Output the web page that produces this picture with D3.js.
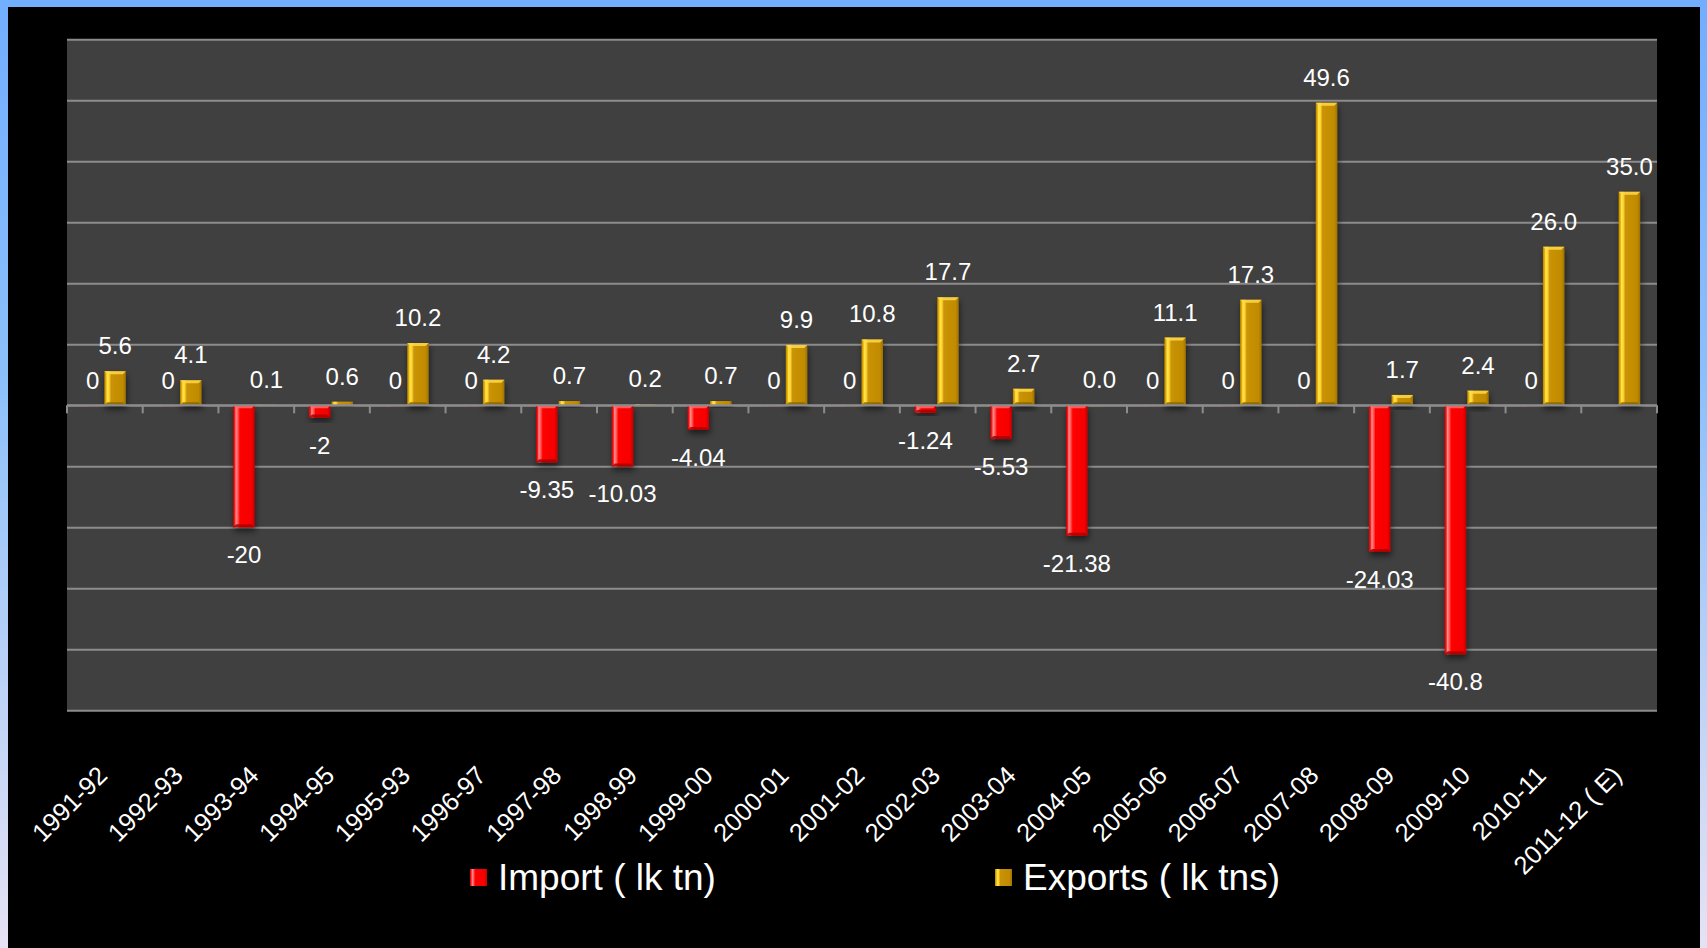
<!DOCTYPE html>
<html>
<head>
<meta charset="utf-8">
<script src="https://cdn.jsdelivr.net/npm/d3@7"></script>
<style>
  html, body { margin: 0; padding: 0; background: #000; overflow: hidden; }
  svg { display: block; font-family: "Liberation Sans", Arial, sans-serif; }
</style>
</head>
<body>
<svg id="chart" width="1707" height="948"></svg>
<script>
// ---- data ----
const categories = ["1991-92","1992-93","1993-94","1994-95","1995-93","1996-97","1997-98","1998.99","1999-00","2000-01","2001-02","2002-03","2003-04","2004-05","2005-06","2006-07","2007-08","2008-09","2009-10","2010-11","2011-12 ( E)"];
const importValues = [0, 0, -20, -2, 0, 0, -9.35, -10.03, -4.04, 0, 0, -1.24, -5.53, -21.38, 0, 0, 0, -24.03, -40.8, 0, null];
const exportValues = [5.6, 4.1, 0.1, 0.6, 10.2, 4.2, 0.7, 0.2, 0.7, 9.9, 10.8, 17.7, 2.7, 0.0, 11.1, 17.3, 49.6, 1.7, 2.4, 26.0, 35.0];
const seriesNames = ["Import ( lk tn)", "Exports ( lk tns)"];
const yTicks = [-50, -40, -30, -20, -10, 0, 10, 20, 30, 40, 50, 60];

// ---- layout ----
const W = 1707, H = 948;
const plot = { left: 67, right: 1657, top: 39.3, bottom: 710.3 };

const svg = d3.select("#chart");
const defs = svg.append("defs");

// page background: blue gradient frame + black panel
const bgGrad = defs.append("linearGradient").attr("id", "bgGrad")
  .attr("x1", 0).attr("y1", 0).attr("x2", 0).attr("y2", 1);
bgGrad.append("stop").attr("offset", "0%").attr("stop-color", "#72aeff");
bgGrad.append("stop").attr("offset", "40%").attr("stop-color", "#8cc0fa");
bgGrad.append("stop").attr("offset", "100%").attr("stop-color", "#e6e2f4");
svg.append("rect").attr("width", W).attr("height", H).attr("fill", "url(#bgGrad)");
svg.append("rect").attr("x", 8).attr("y", 7).attr("width", 1692).attr("height", H - 7).attr("fill", "#000");

// bar gradients
function hGrad(id, stops) {
  const g = defs.append("linearGradient").attr("id", id)
    .attr("x1", 0).attr("y1", 0).attr("x2", 1).attr("y2", 0);
  stops.forEach(s => g.append("stop").attr("offset", s[0]).attr("stop-color", s[1]));
}
hGrad("goldGrad", [["0%", "#b98500"], ["7%", "#e0aa08"], ["13%", "#ffe44d"], ["22%", "#ffd42a"], ["31%", "#c99308"], ["86%", "#c08b00"], ["100%", "#9e7200"]]);
hGrad("redGrad", [["0%", "#c80000"], ["7%", "#ff1a1a"], ["13%", "#ff8f8f"], ["22%", "#ff5252"], ["31%", "#ff0000"], ["86%", "#f50000"], ["100%", "#c00000"]]);

const shadow = defs.append("filter").attr("id", "shadow")
  .attr("x", "-50%").attr("y", "-20%").attr("width", "200%").attr("height", "160%");
shadow.append("feDropShadow").attr("dx", 1).attr("dy", 4).attr("stdDeviation", 3)
  .attr("flood-color", "#000").attr("flood-opacity", 0.55);

// scales
const x0 = d3.scaleBand().domain(categories).range([plot.left, plot.right]).padding(0);
const keys = ["imp", "exp"];
const bw = x0.bandwidth();
const x1 = d3.scaleBand().domain(keys).range([bw * 0.196, bw * 0.777]).paddingInner(0.05);
const y = d3.scaleLinear().domain([-50, 60]).range([plot.bottom, plot.top]);

// plot background
svg.append("rect")
  .attr("x", plot.left).attr("y", plot.top)
  .attr("width", plot.right - plot.left).attr("height", plot.bottom - plot.top)
  .attr("fill", "#404040");

// gridlines
svg.append("g")
  .attr("transform", `translate(${plot.left},0)`)
  .call(d3.axisLeft(y).tickValues(yTicks).tickSize(-(plot.right - plot.left)).tickFormat(""))
  .call(g => g.select(".domain").remove())
  .call(g => g.selectAll(".tick line").attr("stroke", "#8c8c8c").attr("stroke-width", 2));

// bars data
const rows = categories.map((c, i) => ({ cat: c, imp: importValues[i], exp: exportValues[i] }));
const barsG = svg.append("g");

const colors = { imp: "redGrad", exp: "goldGrad" };
const edgeTop = { imp: "#ff6a6a", exp: "#ffd84a" };
const edgeBot = { imp: "#a80000", exp: "#8a6400" };

rows.forEach(r => {
  keys.forEach(k => {
    const v = r[k];
    if (v === null || v === undefined) return;
    const bx = x0(r.cat) + x1(k);
    const w = x1.bandwidth();
    const yTop = y(Math.max(v, 0));
    const yBot = y(Math.min(v, 0));
    const h = Math.max(yBot - yTop, 0.8);
    const g = barsG.append("g");
    g.append("rect").attr("x", bx).attr("y", yTop).attr("width", w).attr("height", h)
      .attr("fill", `url(#${colors[k]})`).attr("filter", "url(#shadow)");
    if (h > 6) {
      // bevel edges
      g.append("path")
        .attr("d", `M${bx},${yTop} L${bx + w},${yTop} L${bx + w - 3},${yTop + 3} L${bx + 3},${yTop + 3} Z`)
        .attr("fill", edgeTop[k]).attr("opacity", 0.85);
      g.append("path")
        .attr("d", `M${bx},${yTop + h} L${bx + w},${yTop + h} L${bx + w - 3},${yTop + h - 3} L${bx + 3},${yTop + h - 3} Z`)
        .attr("fill", edgeBot[k]).attr("opacity", 0.85);
    }
  });
});

// zero axis with ticks
svg.append("g")
  .attr("transform", `translate(0,${y(0)})`)
  .call(g => {
    g.append("line").attr("x1", plot.left).attr("x2", plot.right)
      .attr("stroke", "#8c8c8c").attr("stroke-width", 2);
    const bounds = categories.map(c => x0(c)).concat([plot.right]);
    g.selectAll("line.tk").data(bounds).join("line").attr("class", "tk")
      .attr("x1", d => d).attr("x2", d => d).attr("y1", 0).attr("y2", 8)
      .attr("stroke", "#8c8c8c").attr("stroke-width", 2);
  });

// data labels
const lblG = svg.append("g").attr("fill", "#fff").attr("font-size", 24).attr("text-anchor", "middle");
rows.forEach(r => {
  if (r.exp !== null) {
    lblG.append("text")
      .attr("x", x0(r.cat) + x1("exp") + x1.bandwidth() / 2)
      .attr("y", y(Math.max(r.exp, 0)) - 17)
      .text(r.exp.toFixed(1));
  }
  if (r.imp !== null) {
    lblG.append("text")
      .attr("x", x0(r.cat) + x1("imp") + x1.bandwidth() / 2)
      .attr("y", r.imp < 0 ? y(r.imp) + 36 : y(0) - 16)
      .text(String(r.imp));
  }
});

// category labels
svg.append("g").attr("fill", "#fff").attr("font-size", 25.5).attr("text-anchor", "end")
  .selectAll("text").data(categories).join("text")
  .attr("transform", d => `translate(${x0(d) + bw / 2 + 4},${777}) rotate(-45)`)
  .text(d => d);

// legend
const legendX = [470, 995];
const legG = svg.append("g");
seriesNames.forEach((name, i) => {
  const k = keys[i];
  legG.append("rect").attr("x", legendX[i]).attr("y", 869).attr("width", 17).attr("height", 17)
    .attr("fill", `url(#${colors[k]})`);
  legG.append("text").attr("x", legendX[i] + 28).attr("y", 890)
    .attr("fill", "#fff").attr("font-size", 37).text(name);
});
</script>
</body>
</html>
